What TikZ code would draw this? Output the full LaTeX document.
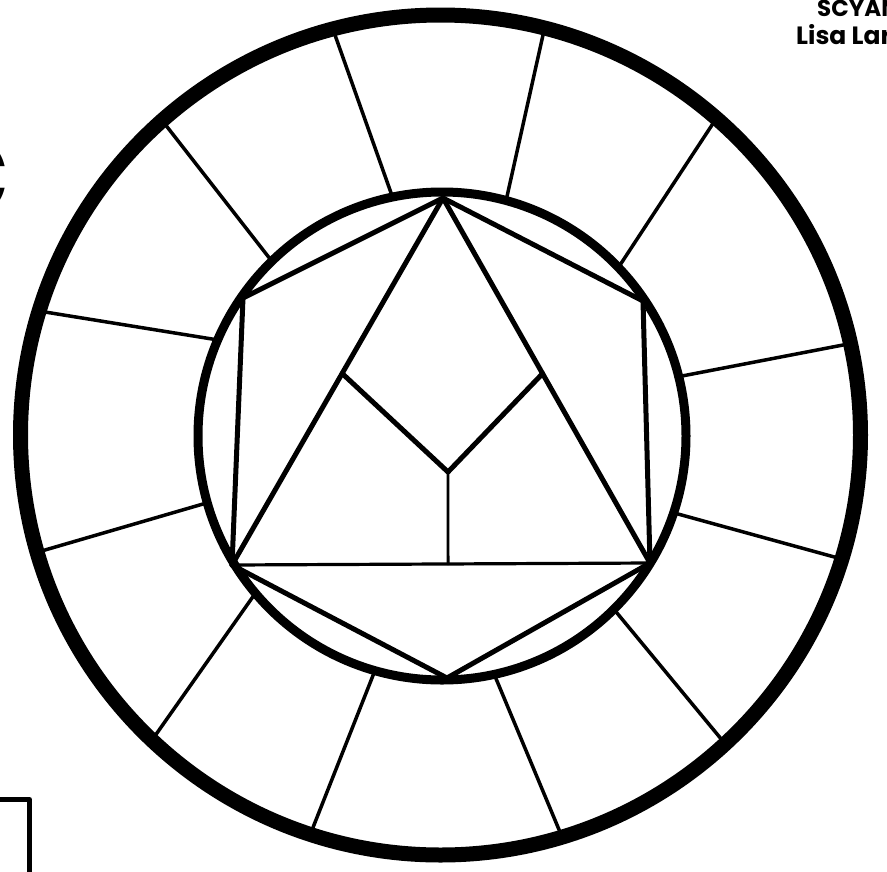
\documentclass[tikz,border=0pt]{standalone}
\usepackage{fontspec}
\newfontfamily\labfont{Poppins}
\usetikzlibrary{calc}
\begin{document}
\begin{tikzpicture}[x=1pt,y=-1pt,line join=round,line cap=round,
  spoke/.style={line width=3.5pt,shorten <=-6pt,shorten >=-6pt},
  polyline/.style={line width=5pt},
  thinline/.style={line width=3.2pt},
  ring/.style={line width=15pt},
  innerring/.style={line width=9pt},
  lab/.style={font=\labfont\bfseries\fontsize{23}{25}\selectfont,inner sep=0pt,anchor=base west}]
\useasboundingbox (0,0) rectangle (887,871);
\fill[white] (0,0) rectangle (887,871);
% centres
\coordinate (C) at (440.5,435);
\coordinate (c) at (442,436);
% spokes (inner end, outer end)
\coordinate (i1) at (390,190);  \coordinate (o1) at (335,35);
\coordinate (i2) at (508,192);  \coordinate (o2) at (543,35);
\coordinate (i3) at (622,262);  \coordinate (o3) at (712,125);
\coordinate (i4) at (682,376);  \coordinate (o4) at (843,345);
\coordinate (i5) at (678,514);  \coordinate (o5) at (838,558);
\coordinate (i6) at (617,613);  \coordinate (o6) at (722,740);
\coordinate (i7) at (497,681);  \coordinate (o7) at (560,832);
\coordinate (i8) at (372,678);  \coordinate (o8) at (312,830);
\coordinate (i9) at (252,598);  \coordinate (o9) at (157,733);
\coordinate (i10) at (203,504); \coordinate (o10) at (45,550);
\coordinate (i11) at (212,339); \coordinate (o11) at (45,312);
\coordinate (i12) at (267,255); \coordinate (o12) at (168,128);
\foreach \k in {1,...,12} {\draw[spoke] (i\k) -- (o\k);}
% rings
\draw[ring] (C) circle[radius=420];
\draw[innerring] (c) circle[radius=244];
% polygon vertices
\coordinate (T) at (443,198);
\coordinate (UL) at (243,298);
\coordinate (UR) at (643,301);
\coordinate (LL) at (232,565);
\coordinate (LR) at (650,563);
\coordinate (B) at (447,678);
\draw[polyline] (LL) -- (UL) -- (T) -- (UR) -- (LR);
\draw[polyline] (LL) -- (B) -- (LR);
\draw[polyline] (LL) -- (T) -- (LR);
\draw[thinline] (LL) -- (LR);
% Y shape
\coordinate (YL) at ($(T)!0.478!(LL)$);
\coordinate (YR) at ($(T)!0.481!(LR)$);
\coordinate (YC) at (448,472);
\coordinate (YB) at ($(LL)!0.517!(LR)$);
\draw[polyline] (YL) -- (YC) -- (YR);
\draw[line width=2.8pt] (YC) -- (YB);
% cut-off texts and frame
\begin{scope}
\clip (0,0) rectangle (887,871);
\node[lab] (t1) at (817,16) {SCYAN};
\node[lab,font=\labfont\bfseries\fontsize{25}{27}\selectfont] (t2) at (796,44) {Lisa Larson};
\node[font=\labfont\bfseries\fontsize{140}{140}\selectfont,inner sep=0pt,anchor=base east] (t3) at (9,216) {c};
\draw[line width=5pt,line cap=butt] (-5,799.5) -- (29.5,799.5) -- (29.5,880);
\end{scope}
\end{tikzpicture}
\end{document}
